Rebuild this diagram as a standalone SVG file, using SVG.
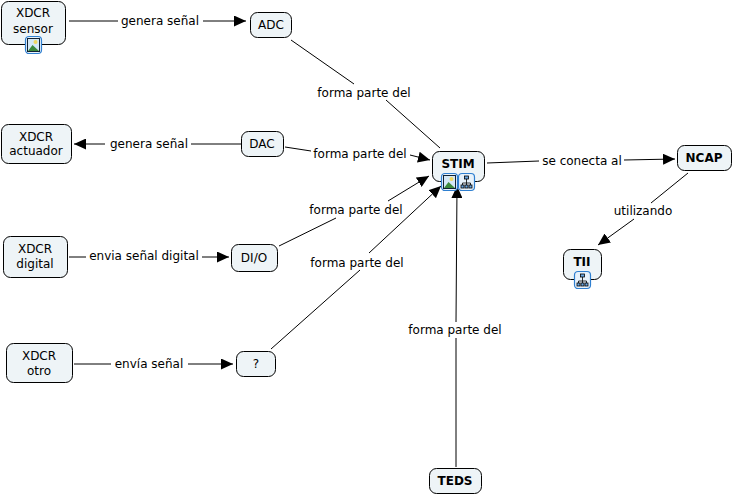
<svg xmlns="http://www.w3.org/2000/svg" width="733" height="495" viewBox="0 0 733 495">
<style>
text{font-family:"DejaVu Sans",Verdana,sans-serif;font-size:12px;fill:#000;text-anchor:middle}
.b{font-weight:bold}
.n{fill:#eef4f7;stroke:#000;stroke-width:1}
.l{stroke:#000;stroke-width:1;fill:none}
.a{stroke:#000;stroke-width:1;fill:none;marker-end:url(#h)}
.ib{fill:#e8f2fb;stroke:#2f7fd0;stroke-width:1.2}
</style>
<defs>
<marker id="h" viewBox="0 0 12 11" refX="12" refY="5.500" markerWidth="12" markerHeight="11" markerUnits="userSpaceOnUse" orient="auto"><path d="M0 0L12 5.500L0 11z" fill="#000"/></marker>
<g id="img"><rect class="ib" x="0.500" y="0.500" width="16" height="17" rx="3.500"/><rect x="2.500" y="2.500" width="12" height="13" fill="#d4e8f6" stroke="#123" stroke-width="1"/><circle cx="10.500" cy="6" r="2" fill="#f0d860"/><path d="M3 15L7.500 9L14 15z" fill="#3c8a3c"/></g>
<g id="map"><rect class="ib" x="0.500" y="0.500" width="16" height="17" rx="3.500"/><path d="M8.500 6V10M4.500 12V10H12.500V12M8.500 10V12" stroke="#000" fill="none" stroke-width=".8"/><rect x="6.500" y="3" width="4" height="3" fill="#6aa5e0" stroke="#000" stroke-width=".8"/><rect x="3" y="12" width="3" height="3" fill="#6aa5e0" stroke="#000" stroke-width=".8"/><rect x="7" y="12" width="3" height="3" fill="#6aa5e0" stroke="#000" stroke-width=".8"/><rect x="11" y="12" width="3" height="3" fill="#6aa5e0" stroke="#000" stroke-width=".8"/></g>
</defs>
<rect width="733" height="495" fill="#fff"/>
<g id="connectors">
<path class="l" d="M69 21H118"/><path class="a" d="M203 21H246"/>
<path class="l" d="M291 40L354 84"/><path class="l" d="M386 100L440 148"/>
<path class="l" d="M241 144H191"/><path class="a" d="M105 144H74"/>
<path class="l" d="M285 147L311 151"/><path class="a" d="M410 155L430 160"/>
<path class="l" d="M69 257H86"/><path class="a" d="M202 257H229"/>
<path class="l" d="M279 246L336 218"/><path class="a" d="M388 201L429 176"/>
<path class="l" d="M74 364H111"/><path class="a" d="M188 364H233"/>
<path class="l" d="M271 349L360 270"/><path class="a" d="M369 253L441 186"/>
<path class="l" d="M456 467V338"/><path class="a" d="M456 322L457 186"/>
<path class="l" d="M487 163L539 161"/><path class="a" d="M624 160L675 159"/>
<path class="l" d="M688 173L651 203"/><path class="a" d="M634 219L598 245"/>
</g>
<g id="link-labels">
<text x="160" y="25">genera señal</text>
<text x="149" y="148">genera señal</text>
<text x="364" y="97">forma parte del</text>
<text x="360" y="158">forma parte del</text>
<text x="356" y="214">forma parte del</text>
<text x="357" y="267">forma parte del</text>
<text x="455" y="334">forma parte del</text>
<text x="144" y="260">envia señal digital</text>
<text x="149" y="368">envía señal</text>
<text x="582" y="165">se conecta al</text>
<text x="643" y="215">utilizando</text>
</g>
<g id="n-sensor"><rect class="n" x="1.500" y="1.500" width="64" height="43" rx="7"/><text x="33" y="17">XDCR</text><text x="33" y="33">sensor</text><use href="#img" x="25" y="36"/></g>
<g id="n-adc"><rect class="n" x="250.500" y="12.500" width="41" height="25" rx="7"/><text x="271" y="29">ADC</text></g>
<g id="n-actuador"><rect class="n" x="1.500" y="124.500" width="70" height="39" rx="7"/><text x="36" y="141">XDCR</text><text x="36" y="155">actuador</text></g>
<g id="n-dac"><rect class="n" x="241.500" y="131.500" width="42" height="25" rx="7"/><text x="262" y="148">DAC</text></g>
<g id="n-digital"><rect class="n" x="3.500" y="236.500" width="64" height="41" rx="7"/><text x="35" y="253">XDCR</text><text x="35" y="268">digital</text></g>
<g id="n-dio"><rect class="n" x="231.500" y="244.500" width="46" height="27" rx="7"/><text x="254" y="262">DI/O</text></g>
<g id="n-otro"><rect class="n" x="6.500" y="343.500" width="66" height="39" rx="7"/><text x="39" y="360">XDCR</text><text x="39" y="375">otro</text></g>
<g id="n-q"><rect class="n" x="236.500" y="351.500" width="39" height="25" rx="7"/><text x="256" y="368">?</text></g>
<g id="n-stim"><rect class="n" x="432.500" y="151.500" width="52" height="30" rx="7"/><text class="b" x="458" y="168">STIM</text><use href="#img" x="441" y="173"/><use href="#map" x="458" y="173"/></g>
<g id="n-teds"><rect class="n" x="429.500" y="468.500" width="52" height="25" rx="7"/><text class="b" x="455" y="485">TEDS</text></g>
<g id="n-ncap"><rect class="n" x="677.500" y="145.500" width="54" height="25" rx="7"/><text class="b" x="704" y="162">NCAP</text></g>
<g id="n-tii"><rect class="n" x="563.500" y="249.500" width="38" height="30" rx="7"/><text class="b" x="582" y="266">TII</text><use href="#map" x="574" y="271"/></g>
</svg>
